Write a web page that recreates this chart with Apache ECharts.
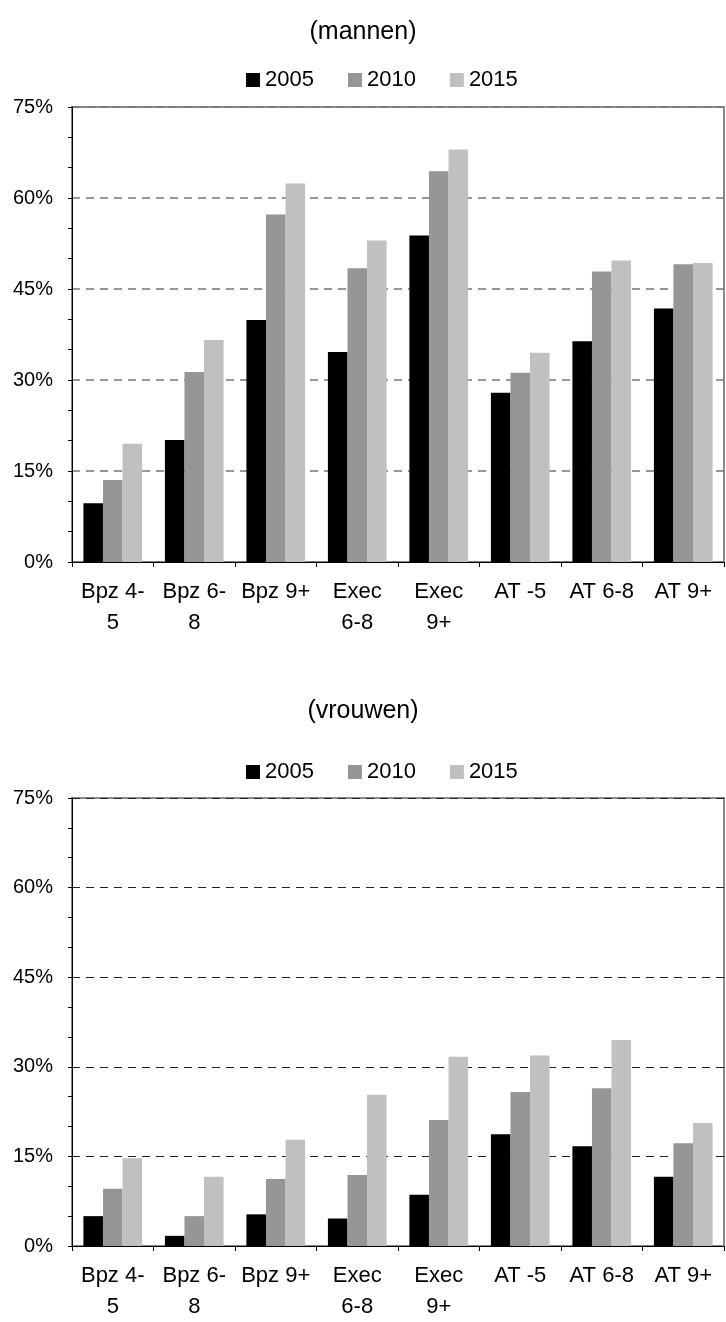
<!DOCTYPE html>
<html>
<head>
<meta charset="utf-8">
<script src="https://cdn.jsdelivr.net/npm/echarts@6/dist/echarts.min.js"></script>
<style>
  html, body { margin: 0; padding: 0; background: #fff; }
  #chart { width: 726px; height: 1322px; }
</style>
</head>
<body>
<div id="chart"></div>
<script>
const categories = ['Bpz 4-\n5', 'Bpz 6-\n8', 'Bpz 9+', 'Exec\n6-8', 'Exec\n9+', 'AT -5', 'AT 6-8', 'AT 9+']
const years = ['2005', '2010', '2015']
const yearColors = ['#000000', '#969696', '#c0c0c0']

// mannen (%)
const men2005 = [9.7, 20.1, 39.9, 34.6, 53.8, 27.9, 36.4, 41.8]
const men2010 = [13.5, 31.3, 57.3, 48.4, 64.4, 31.2, 47.9, 49.1]
const men2015 = [19.5, 36.6, 62.4, 53.0, 68.0, 34.5, 49.7, 49.3]

// vrouwen (%)
const women2005 = [5.0, 1.7, 5.3, 4.6, 8.6, 18.7, 16.7, 11.6]
const women2010 = [9.6, 5.0, 11.2, 11.9, 21.1, 25.8, 26.4, 17.2]
const women2015 = [14.7, 11.6, 17.8, 25.3, 31.7, 31.9, 34.5, 20.6]

const yTicks = [0, 15, 30, 45, 60, 75]

const font = 'Liberation Sans, Arial, sans-serif'

const chart = echarts.init(document.getElementById('chart'))

const makeX = (gridIndex) => ({
  type: 'category',
  gridIndex,
  data: categories,
  axisLine: { lineStyle: { color: '#000', width: 1 } },
  axisTick: { show: true, length: 5, lineStyle: { color: '#000' } },
  axisLabel: {
    color: '#000', fontSize: 22, fontFamily: font,
    lineHeight: 31, margin: 14, interval: 0
  }
})

const makeY = (gridIndex, gridColor, gridWidth) => ({
  type: 'value',
  gridIndex,
  min: yTicks[0],
  max: yTicks[yTicks.length - 1],
  interval: 15,
  axisLine: { show: true, lineStyle: { color: '#000', width: 1 } },
  axisTick: { show: true, length: 4, lineStyle: { color: '#000' } },
  minorTick: { show: true, splitNumber: 3, length: 4, lineStyle: { color: '#000' } },
  axisLabel: {
    color: '#000', fontSize: 20, fontFamily: font, margin: 19,
    formatter: '{value}%'
  },
  splitLine: {
    show: true,
    lineStyle: { color: gridColor, width: gridWidth, type: [8, 6] }
  }
})

const makeSeries = (lists, idx) => lists.map((vals, i) => ({
  name: years[i],
  type: 'bar',
  xAxisIndex: idx,
  yAxisIndex: idx,
  data: vals,
  barGap: '0%',
  barCategoryGap: '28%',
  itemStyle: { color: yearColors[i] },
  silent: true
}))

// legend sits a bit right of centre in the original
const makeLegend = (top) => ({
  top,
  left: 241,
  data: years,
  icon: 'rect',
  itemWidth: 14,
  itemHeight: 14,
  itemGap: 34,
  textStyle: { color: '#000', fontSize: 22, fontFamily: font }
})

const titleStyle = { fontSize: 25, fontWeight: 'normal', color: '#000', fontFamily: font }

const option = {
  animation: false,
  color: yearColors,
  title: [
    { text: '(mannen)', left: 'center', top: 15, textStyle: titleStyle },
    { text: '(vrouwen)', left: 'center', top: 694, textStyle: titleStyle }
  ],
  legend: [makeLegend(64), makeLegend(756)],
  grid: [
    { left: 72, right: 2, top: 107, height: 455, show: true, borderColor: '#888', borderWidth: 2 },
    { left: 72, right: 2, top: 798, height: 456, show: true, borderColor: '#888', borderWidth: 2 }
  ],
  xAxis: [makeX(0), makeX(1)],
  yAxis: [makeY(0, '#777', 1.5), makeY(1, '#222', 1)],
  series: [
    ...makeSeries([men2005, men2010, men2015], 0),
    ...makeSeries([women2005, women2010, women2015], 1)
  ]
}

chart.setOption(option)
</script>
</body>
</html>
